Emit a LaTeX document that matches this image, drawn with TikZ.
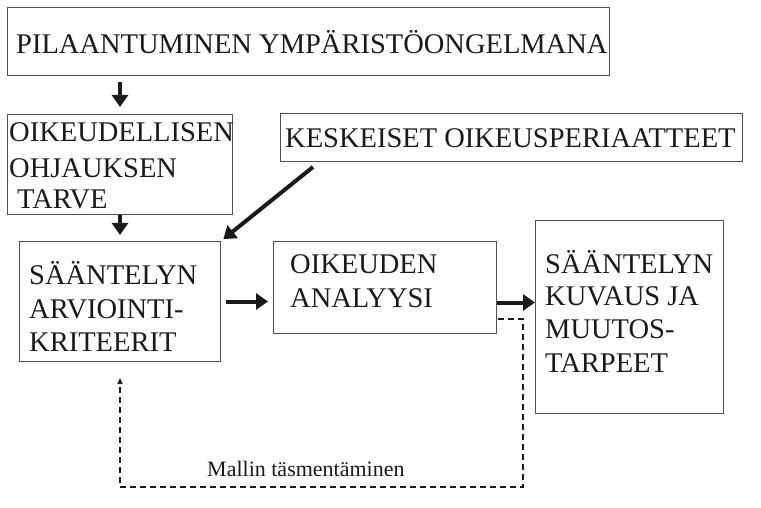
\documentclass[tikz,border=0pt]{standalone}
\usepackage{fontspec}
\setmainfont{Liberation Serif}
\usetikzlibrary{arrows.meta,calc}
\definecolor{boxline}{HTML}{505050}
\definecolor{ink}{HTML}{1A1A1A}
\begin{document}
\begin{tikzpicture}[x=1pt,y=-1pt,
  box/.style={draw=boxline,line width=1pt,rectangle,inner sep=0pt,anchor=north west},
  txt/.style={anchor=base west,inner sep=0pt,text=ink,font=\fontsize{28.5}{30}\selectfont},
  small/.style={anchor=base west,inner sep=0pt,text=ink,font=\fontsize{22}{24}\selectfont},
  bigarrow/.style={draw=ink,line width=4pt,-{Triangle[width=16pt,length=12pt]}},
  feedback/.style={draw=ink,line width=1.1pt,dash pattern=on 6pt off 4pt,-{Triangle[width=5pt,length=6pt]}}]
\useasboundingbox (0,0) rectangle (761,508);
% boxes
\node[box,minimum width=602pt,minimum height=68pt] (b1) at (7,7) {};
\node[box,minimum width=225pt,minimum height=100pt] (b2) at (7,114) {};
\node[box,minimum width=462pt,minimum height=48pt] (b3) at (280,113) {};
\node[box,minimum width=201pt,minimum height=120pt] (b4) at (19,241) {};
\node[box,minimum width=223pt,minimum height=92pt] (b5) at (273,241) {};
\node[box,minimum width=188pt,minimum height=193pt] (b6) at (535,220) {};
% texts
\node[txt] (t1) at (16,53.5) {PILAANTUMINEN YMPÄRISTÖONGELMANA};
\node[txt] (t2a) at (9,142) {OIKEUDELLISEN};
\node[txt] (t2b) at (9,178) {OHJAUKSEN};
\node[txt] (t2c) at (17,208) {TARVE};
\node[txt] (t3) at (285,148) {KESKEISET OIKEUSPERIAATTEET};
\node[txt] (t4a) at (29,284) {SÄÄNTELYN};
\node[txt] (t4b) at (29,318) {ARVIOINTI-};
\node[txt] (t4c) at (29,351) {KRITEERIT};
\node[txt] (t5a) at (290,273) {OIKEUDEN};
\node[txt] (t5b) at (290,307) {ANALYYSI};
\node[txt] (t6a) at (545,273) {SÄÄNTELYN};
\node[txt] (t6b) at (545,305) {KUVAUS JA};
\node[txt] (t6c) at (545,338) {MUUTOS-};
\node[txt] (t6d) at (545,372) {TARPEET};
\node[small] (lbl) at (207,476) {Mallin täsmentäminen};
% helper coordinates
\coordinate (c120) at (120,0);
\coordinate (d1) at (313,167);
\coordinate (fb1) at (523,319);
\coordinate (fb2) at (523,487);
\coordinate (fb3) at (120,487);
% arrows
\draw[bigarrow,shorten <=6pt,shorten >=7pt] (b1.south -| c120) -- (b2.north -| c120);
\draw[bigarrow,shorten >=6pt] (b2.south -| c120) -- (b4.north -| c120);
\draw[bigarrow,shorten >=3pt] (d1) -- (b4.north east);
\draw[bigarrow,shorten <=5pt,shorten >=5pt] (b4.east) -- (b4.east -| b5.west);
\draw[bigarrow,shorten >=0pt] ([yshift=-15pt]b5.east) -- ([yshift=-15pt]b5.east -| b6.west);
\draw[feedback,shorten >=16pt] ([xshift=1pt]b5.east |- fb1) -- (fb1) -- (fb2) -- (fb3) -- (b4.south -| c120);
\end{tikzpicture}
\end{document}
